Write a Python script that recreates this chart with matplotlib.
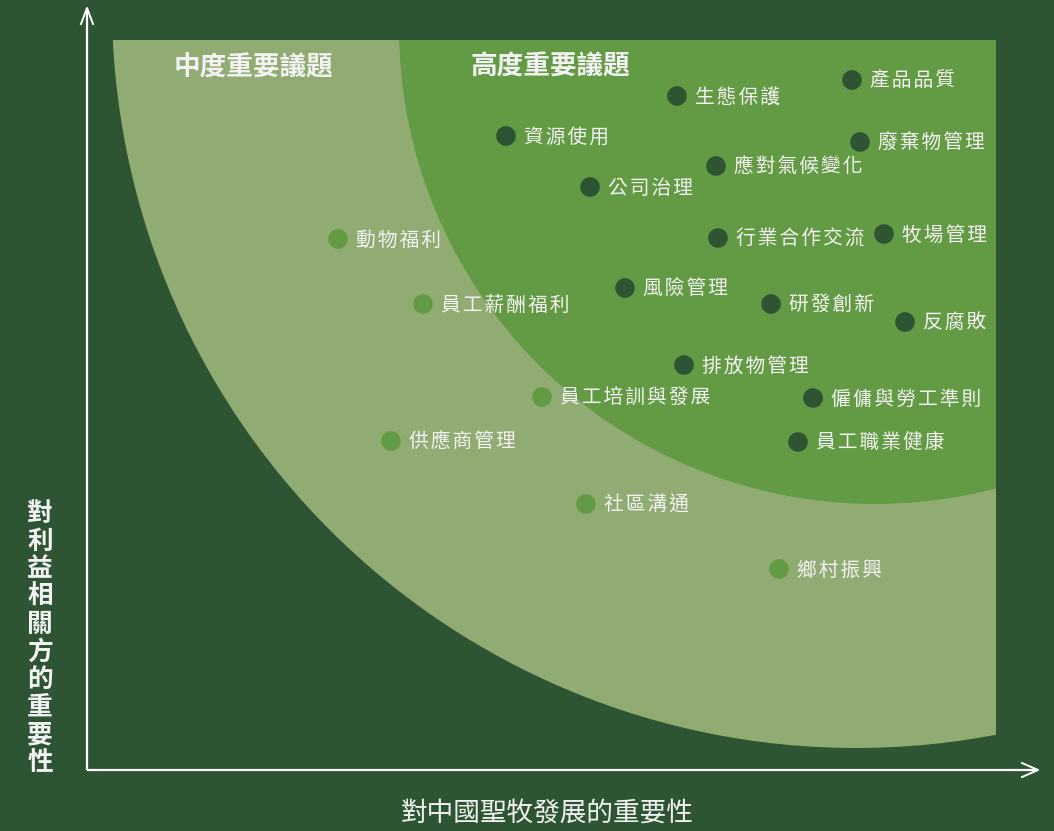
import matplotlib
matplotlib.use('Agg')
import matplotlib.pyplot as plt
from matplotlib.patches import Rectangle, Circle

plt.rcParams['font.family'] = ['Noto Sans CJK TC', 'DejaVu Sans']

BG = '#2e5533'
LIGHT = '#90ac72'
MID = '#639a44'
TXT = '#f2f2f2'

# high importance topics (dark dots) - positions
high_names = ['產品品質', '生態保護', '資源使用', '廢棄物管理', '應對氣候變化', '公司治理',
              '行業合作交流', '牧場管理', '風險管理', '研發創新', '反腐敗', '排放物管理',
              '僱傭與勞工準則', '員工職業健康']
high_x = [852, 677, 506, 860, 716, 590, 718, 884, 625, 771, 905, 684, 813, 798]
high_y = [80, 96, 136, 142, 166, 187, 238, 234, 288, 304, 322, 365, 398, 442]

# medium importance topics (light dots)
mid_names = ['動物福利', '員工薪酬福利', '員工培訓與發展', '供應商管理', '社區溝通', '鄉村振興']
mid_x = [338, 423, 542, 391, 586, 779]
mid_y = [239, 304, 397, 441, 504, 569]

x_label = '對中國聖牧發展的重要性'
y_label = '對利益相關方的重要性'
zone_titles = ['中度重要議題', '高度重要議題']


def spaced(s):
    return '\u200a'.join(s)


fig = plt.figure(figsize=(10.54, 8.31), dpi=100, facecolor=BG)
ax = fig.add_axes([0, 0, 1, 1])
ax.set_facecolor(BG)
ax.set_xlim(0, 1054)
ax.set_ylim(831, 0)
ax.axis('off')

# zones: rectangle clipped by circles
light_rect = Rectangle((113, 40), 883, 800, facecolor=LIGHT, edgecolor='none', zorder=1)
ax.add_patch(light_rect)
light_circ = Circle((856, 4), 744, transform=ax.transData)
light_rect.set_clip_path(light_circ)

mid_rect = Rectangle((113, 40), 883, 800, facecolor=MID, edgecolor='none', zorder=2)
ax.add_patch(mid_rect)
mid_circ = Circle((875, 28), 476, transform=ax.transData)
mid_rect.set_clip_path(mid_circ)

ax.text(254, 67, zone_titles[0], color=TXT, fontsize=19.2, fontweight='bold',
        ha='center', va='center', zorder=5)
ax.text(550, 67, zone_titles[1], color=TXT, fontsize=19.2, fontweight='bold',
        ha='center', va='center', zorder=5)

# axes arrows
ax.plot([87, 87], [770, 8], color='white', lw=1.6, zorder=4, solid_capstyle='butt')
ax.plot([81, 87, 93], [24, 8, 24], color='white', lw=1.4, zorder=4)
ax.plot([87, 1038], [770, 770], color='white', lw=1.6, zorder=4, solid_capstyle='butt')
ax.plot([1022, 1038, 1022], [763, 770, 777], color='white', lw=1.4, zorder=4)

# dots
ax.scatter(high_x, high_y, s=200, color=BG, edgecolors='none', zorder=6)
ax.scatter(mid_x, mid_y, s=200, color=MID, edgecolors='none', zorder=6)

for n, x, y in zip(high_names, high_x, high_y):
    ax.text(x + 18, y + 1, spaced(n), color=TXT, fontsize=14.2, ha='left', va='center', zorder=7)
for n, x, y in zip(mid_names, mid_x, mid_y):
    ax.text(x + 18, y + 1, spaced(n), color=TXT, fontsize=14.2, ha='left', va='center', zorder=7)

# axis titles
ax.text(547, 813, x_label, color=TXT, fontsize=19.2, ha='center', va='center', zorder=5)
ax.text(40, 638, '\n'.join(y_label), color=TXT, fontsize=18.5, ha='center', va='center',
        linespacing=1.03, fontweight='bold', zorder=5)

fig.savefig('out.png', dpi=100, facecolor=BG)
